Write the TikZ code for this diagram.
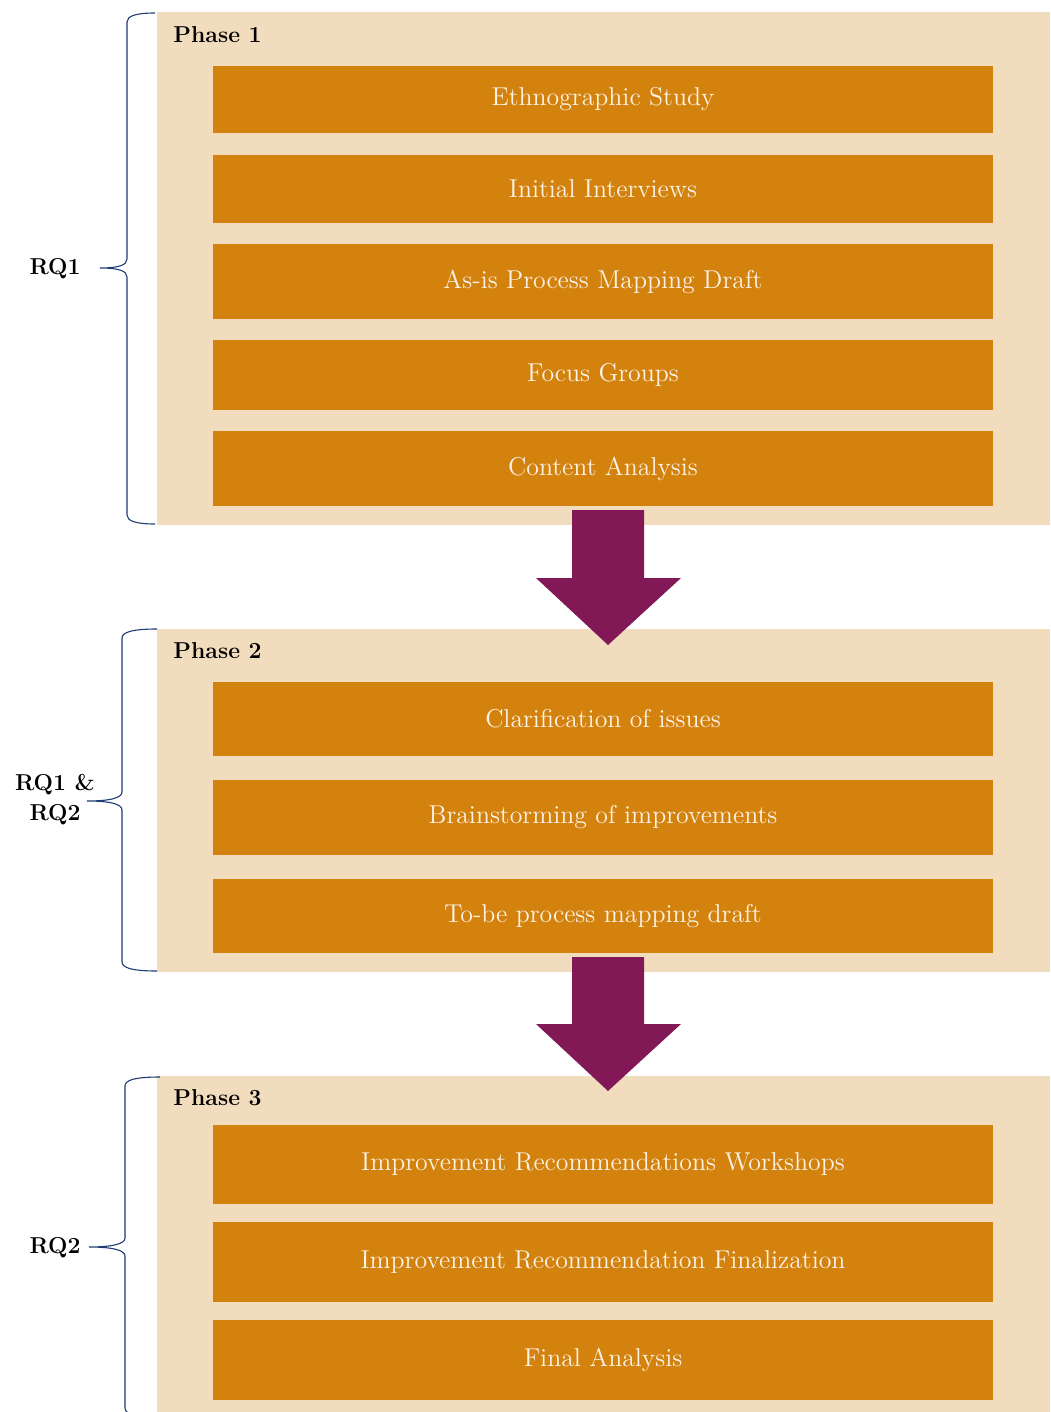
\documentclass[tikz,border=0pt]{standalone}
\usetikzlibrary{calc}
\definecolor{panelc}{HTML}{F2DCBE}
\definecolor{boxc}{HTML}{D4820E}
\definecolor{arrowc}{HTML}{821856}
\definecolor{bracec}{HTML}{1F3B73}
\definecolor{boxtext}{HTML}{FCF2E6}
\begin{document}
\begin{tikzpicture}[x=0.5pt,y=-0.5pt,
  panelbox/.style={fill=panelc, draw=none, inner sep=0pt, outer sep=0pt, anchor=north west, minimum width=446.5pt},
  stepbox/.style={fill=boxc, draw=none, text=boxtext, font=\fontsize{12.9}{15}\selectfont, inner sep=0pt, outer sep=0pt, minimum width=390pt},
  phaselabel/.style={anchor=west, inner sep=0pt, font=\fontsize{11.5}{14}\selectfont\bfseries},
  rqlabel/.style={inner sep=0pt, align=center, font=\fontsize{11.5}{15}\selectfont\bfseries},
  bracestyle/.style={draw=bracec, line width=0.55pt},
  blockarrow/.style={fill=arrowc, draw=none}
]
\useasboundingbox (0,0) rectangle (1050,1412);
\clip (0,0) rectangle (1050,1412);

% Panels
\node[panelbox, minimum height=256.5pt] (p1) at (157,12) {};
\node[panelbox, minimum height=171.5pt] (p2) at (157,629) {};
\node[panelbox, minimum height=172pt] (p3) at (157,1076) {};

% Phase labels
\node[phaselabel] (ph1) at (173,35) {Phase 1};
\node[phaselabel] (ph2) at (173,651) {Phase 2};
\node[phaselabel] (ph3) at (173,1098) {Phase 3};

% Phase 1 steps
\node[stepbox, minimum height=33.5pt] (s11) at (603,99.5) {Ethnographic Study};
\node[stepbox, minimum height=34pt] (s12) at (603,189) {Initial Interviews};
\node[stepbox, minimum height=37.5pt] (s13) at (603,281.5) {As-is Process Mapping Draft};
\node[stepbox, minimum height=35pt] (s14) at (603,375) {Focus Groups};
\node[stepbox, minimum height=37.5pt] (s15) at (603,468.5) {Content Analysis};

% Phase 2 steps
\node[stepbox, minimum height=37pt] (s21) at (603,719) {Clarification of issues};
\node[stepbox, minimum height=37.5pt] (s22) at (603,817.5) {Brainstorming of improvements};
\node[stepbox, minimum height=37pt] (s23) at (603,916) {To-be process mapping draft};

% Phase 3 steps
\node[stepbox, minimum height=39.5pt] (s31) at (603,1164.5) {Improvement Recommendations Workshops};
\node[stepbox, minimum height=40pt] (s32) at (603,1262) {Improvement Recommendation Finalization};
\node[stepbox, minimum height=40pt] (s33) at (603,1360) {Final Analysis};

% Block arrows
\fill[blockarrow] (572,510) -- (644,510) -- (644,578) -- (681,578) -- (608,645) -- (536,578) -- (572,578) -- cycle;
\fill[blockarrow] (572,957) -- (644,957) -- (644,1024) -- (681,1024) -- (608,1091) -- (536,1024) -- (572,1024) -- cycle;

% RQ labels
\node[rqlabel] (rq1) at (55,269) {RQ1};
\node[rqlabel] (rq12) at (55,800) {RQ1 \&\\RQ2};
\node[rqlabel] (rq2) at (55,1248) {RQ2};

% Braces
\draw[bracestyle] (155,13) .. controls (136,13) and (127,16) .. (127,22) -- (127,259)
  .. controls (127,265) and (119,268) .. (100,268)
  .. controls (119,268) and (127,271) .. (127,277) -- (127,515)
  .. controls (127,521) and (136,524) .. (155,524);
\draw[bracestyle] (157,629) .. controls (133,629) and (122,632) .. (122,638) -- (122,792)
  .. controls (122,798) and (110,801) .. (87,801)
  .. controls (110,801) and (122,804) .. (122,810) -- (122,962)
  .. controls (122,968) and (133,971) .. (157,971);
\draw[bracestyle] (160,1077) .. controls (135,1077) and (125,1080) .. (125,1086) -- (125,1238)
  .. controls (125,1244) and (112,1247) .. (89,1247)
  .. controls (112,1247) and (125,1250) .. (125,1256) -- (125,1408)
  .. controls (125,1414) and (135,1417) .. (160,1417);
\end{tikzpicture}
\end{document}
